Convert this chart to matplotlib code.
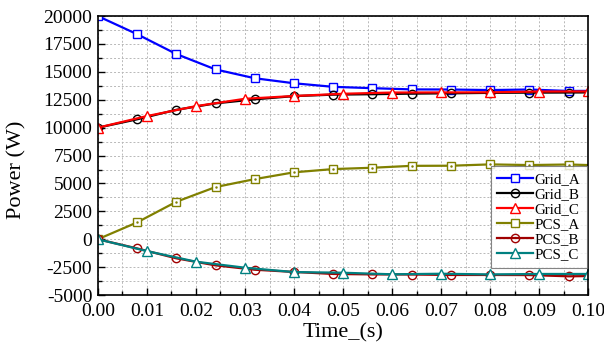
import matplotlib
matplotlib.use("Agg")
import matplotlib.pyplot as plt
from matplotlib.ticker import MultipleLocator

plt.rcParams['font.family'] = ['Liberation Serif', 'DejaVu Serif']

# sample times
t8 = [0.0, 0.008, 0.016, 0.024, 0.032, 0.040, 0.048, 0.056, 0.064, 0.072, 0.080, 0.088, 0.096, 0.100]
t10 = [0.0, 0.01, 0.02, 0.03, 0.04, 0.05, 0.06, 0.07, 0.08, 0.09, 0.10]

grid_a = [20000, 18380, 16600, 15220, 14430, 13980, 13660, 13540, 13430, 13420, 13370, 13420, 13290, 13300]
grid_b = [10000, 10750, 11600, 12180, 12540, 12830, 12960, 13000, 13050, 13080, 13120, 13140, 13150, 13160]
grid_c = [10000, 11040, 11930, 12590, 12840, 13040, 13150, 13160, 13170, 13240, 13250]
pcs_a = [0, 1510, 3360, 4680, 5390, 6000, 6290, 6410, 6580, 6590, 6710, 6650, 6700, 6650]
pcs_b = [0, -820, -1710, -2340, -2730, -2930, -3110, -3150, -3160, -3200, -3200, -3210, -3320, -3300]
pcs_c = [0, -1060, -2010, -2550, -2940, -3000, -3140, -3090, -3150, -3110, -3110]

labels = ['Grid_A', 'Grid_B', 'Grid_C', 'PCS_A', 'PCS_B', 'PCS_C']

fig = plt.figure(figsize=(6.04, 3.5), dpi=100)
ax = fig.add_axes([0.162, 0.157, 0.812, 0.797])

lw = 1.6
ms = 5.5
every8 = list(range(len(t8) - 1))
ax.plot(t8, grid_a, color='#0000FF', lw=lw, marker='s', ms=ms, mfc='white', mec='#0000FF', mew=1.0, markevery=every8, label=labels[0])
ax.plot(t8, grid_b, color='black', lw=lw, marker='o', ms=ms + 0.5, mfc='none', mec='black', mew=1.0, markevery=every8, label=labels[1])
ax.plot(t10, grid_c, color='#FF0000', lw=lw, marker='^', ms=ms + 1, mfc='white', mec='#FF0000', mew=1.0, label=labels[2])
ax.plot(t8, pcs_a, color='#808000', lw=lw, marker='s', ms=ms, mfc='white', mec='#808000', mew=1.0, markevery=every8, label=labels[3])
ax.plot(t8, pcs_a, color='#808000', lw=0, marker='.', ms=1.5, markevery=every8)
ax.plot(t8, pcs_b, color='#A00000', lw=lw, marker='o', ms=ms + 0.5, mfc='none', mec='#A00000', mew=1.0, markevery=every8, label=labels[4])
ax.plot(t10, pcs_c, color='#008080', lw=lw, marker='^', ms=ms + 1, mfc='white', mec='#008080', mew=1.0, label=labels[5])

ax.set_xlim(0, 0.1)
ax.set_ylim(-5000, 20000)
ax.xaxis.set_major_locator(MultipleLocator(0.01))
ax.xaxis.set_minor_locator(MultipleLocator(0.005))
ax.yaxis.set_major_locator(MultipleLocator(2500))
ax.yaxis.set_minor_locator(MultipleLocator(1250))
ax.set_xticklabels([f"{v:.2f}" for v in ax.get_xticks()])
ax.set_yticklabels([f"{int(v)}" for v in ax.get_yticks()])

ax.grid(True, which='both', color='#b8b8b8', linestyle=(0, (2, 2)), lw=0.7)
ax.set_axisbelow(True)
ax.tick_params(which='both', direction='in', top=False, right=False, labelsize=14)
ax.tick_params(axis='x', pad=6)
ax.tick_params(axis='y', pad=4)
ax.tick_params(which='major', length=5, width=1)
ax.tick_params(which='minor', length=3, width=1)
for s in ax.spines.values():
    s.set_linewidth(1.2)

ax.set_xlabel('Time_(s)', fontsize=16, labelpad=2)
ax.set_ylabel('Power (W)', fontsize=16)
ax.yaxis.set_label_coords(-0.145, 0.448)

leg = ax.legend(loc='lower right', bbox_to_anchor=(0.998, 0.097), borderaxespad=0, fontsize=10.8,
                frameon=True, fancybox=False, handlelength=2.35, handletextpad=0.15,
                labelspacing=0.1, borderpad=0.45)
leg.get_frame().set_edgecolor('#666666')
leg.get_frame().set_linewidth(0.8)

fig.savefig('out.png', dpi=100)
